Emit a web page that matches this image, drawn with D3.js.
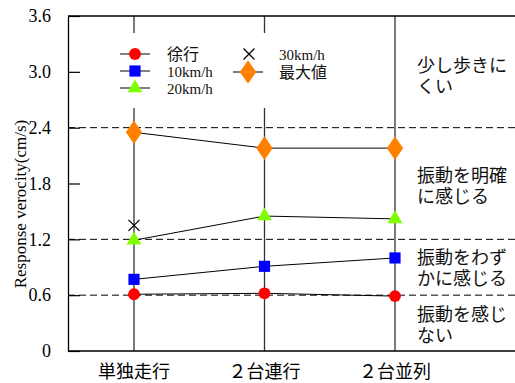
<!DOCTYPE html>
<html>
<head>
<meta charset="utf-8">
<script src="https://cdn.jsdelivr.net/npm/d3@7"></script>
<style>
  body { margin: 0; background: #fff; }
  svg { display: block; }
</style>
</head>
<body>
<div id="chart"></div>
<script>
// categories and values
const categories = ['単独走行', '２台連行', '２台並列'];
const slowValues = [0.61, 0.62, 0.59];      // 徐行
const v10Values = [0.77, 0.91, 1.00];       // 10km/h
const v20Values = [1.19, 1.45, 1.42];       // 20km/h
const v30Values = [1.35, null, null];       // 30km/h (only single run)
const maxValues = [2.35, 2.18, 2.18];       // 最大値
const yTicks = [0, 0.6, 1.2, 1.8, 2.4, 3.0, 3.6];
const thresholds = [0.6, 1.2, 2.4];
const zoneLabels = [
  ['少し歩きに', 'くい'],
  ['振動を明確', 'に感じる'],
  ['振動をわず', 'かに感じる'],
  ['振動を感じ', 'ない']
];

const SERIF = '"Liberation Serif", "Times New Roman", Times, serif';
const JP = '"Noto Sans CJK JP", "Noto Sans", sans-serif';

const width = 515;
const height = 383;
const margin = {left: 68, top: 16, bottom: 32};

const svg = d3.select('#chart').append('svg')
  .attr('width', width)
  .attr('height', height);

const y = d3.scaleLinear().domain([0, 3.6]).range([height - margin.bottom, margin.top]);
const x = d3.scalePoint().domain(categories).range([134, 395]);
const plotRight = 620; // frame runs past the right edge of the picture

// vertical category lines
svg.append('g').selectAll('line')
  .data(categories)
  .enter().append('line')
  .attr('x1', d => x(d)).attr('x2', d => x(d))
  .attr('y1', y(0)).attr('y2', y(3.6))
  .attr('stroke', '#333').attr('stroke-width', 1.3);

// threshold dashed lines
svg.append('g').selectAll('line')
  .data(thresholds)
  .enter().append('line')
  .attr('x1', margin.left).attr('x2', plotRight)
  .attr('y1', d => y(d)).attr('y2', d => y(d))
  .attr('stroke', '#000').attr('stroke-width', 1)
  .attr('stroke-dasharray', '7,4');

// frame
svg.append('line').attr('x1', margin.left).attr('x2', plotRight)
  .attr('y1', y(3.6)).attr('y2', y(3.6)).attr('stroke', '#000').attr('stroke-width', 1.3);
svg.append('line').attr('x1', margin.left).attr('x2', plotRight)
  .attr('y1', y(0)).attr('y2', y(0)).attr('stroke', '#000').attr('stroke-width', 1.3);

// left axis with inward ticks
const yAxis = d3.axisLeft(y).tickValues(yTicks).tickSizeInner(-12).tickSizeOuter(0).tickPadding(17)
  .tickFormat(d => d === 0 ? '0' : d3.format('.1f')(d));
const ya = svg.append('g').attr('transform', `translate(${margin.left},0)`).call(yAxis)
  .attr('font-family', null).attr('font-size', null);
ya.select('.domain').attr('stroke', '#000').attr('stroke-width', 1.3);
ya.selectAll('.tick line').attr('stroke', '#000').attr('stroke-width', 1.2);
ya.selectAll('.tick text')
  .style('font-family', SERIF)
  .style('font-size', '18px')
  .attr('fill', '#000');

// y axis title
svg.append('text')
  .attr('transform', 'translate(26,204) rotate(-90)')
  .attr('text-anchor', 'middle')
  .style('font-family', SERIF)
  .style('font-size', '17px')
  .text('Response verocity(cm/s)');

// x labels
svg.append('g').selectAll('text')
  .data(categories)
  .enter().append('text')
  .attr('x', d => x(d)).attr('y', 378)
  .attr('text-anchor', 'middle')
  .style('font-family', JP)
  .style('font-size', '18px')
  .text(d => d);

// zone labels on the right (layout positions)
const zoneY = [3.06, 1.88, 1.0, 0.39];
const zg = svg.append('g');
zoneLabels.forEach((lines, i) => {
  lines.forEach((t, j) => {
    zg.append('text')
      .attr('x', 417)
      .attr('y', y(zoneY[i]) + j * 21 + 6)
      .style('font-family', JP)
      .style('font-size', '18px')
      .attr('fill', '#111')
      .text(t);
  });
});

// series
const series = [
  {name: '徐行', values: slowValues, shape: 'circle', color: '#ff0000', size: 110},
  {name: '10km/h', values: v10Values, shape: 'square', color: '#0000ff', size: 125},
  {name: '20km/h', values: v20Values, shape: 'triangle', color: '#80ff00', size: 95},
  {name: '30km/h', values: v30Values, shape: 'cross', color: '#000', size: 0},
  {name: '最大値', values: maxValues, shape: 'diamond', color: '#ff8000', size: 160}
];

const symbolType = {
  circle: d3.symbolCircle,
  square: d3.symbolSquare,
  triangle: d3.symbolTriangle,
  diamond: d3.symbolDiamond
};

const line = d3.line()
  .defined(d => d.v != null)
  .x(d => x(d.c))
  .y(d => y(d.v));

function drawMarker(g, s, cx, cy) {
  if (s.shape === 'cross') {
    const r = 5.5;
    g.append('path')
      .attr('d', `M${cx - r},${cy - r}L${cx + r},${cy + r}M${cx - r},${cy + r}L${cx + r},${cy - r}`)
      .attr('stroke', '#000').attr('stroke-width', 1.3).attr('fill', 'none');
  } else {
    g.append('path')
      .attr('d', d3.symbol().type(symbolType[s.shape]).size(s.size)())
      .attr('transform', `translate(${cx},${cy})` + (s.shape === 'diamond' ? ' scale(1.2,1)' : ''))
      .attr('fill', s.color);
  }
}

series.forEach(s => {
  const pts = categories.map((c, i) => ({c: c, v: s.values[i]}));
  const g = svg.append('g');
  if (s.shape !== 'cross') {
    g.append('path').datum(pts)
      .attr('d', line)
      .attr('fill', 'none')
      .attr('stroke', '#000')
      .attr('stroke-width', 1);
  }
  pts.filter(p => p.v != null).forEach(p => drawMarker(g, s, x(p.c), y(p.v)));
});

// legend
const lg = svg.append('g');
lg.append('rect').attr('x', 108).attr('y', 33).attr('width', 232).attr('height', 75).attr('fill', '#fff');
const legendPos = [
  {x: 135, y: 54}, {x: 135, y: 71}, {x: 135, y: 88},
  {x: 249, y: 54}, {x: 248, y: 72}
];
series.forEach((s, i) => {
  const p = legendPos[i];
  if (s.shape !== 'cross') {
    lg.append('line').attr('x1', p.x - 15).attr('x2', p.x + 15)
      .attr('y1', p.y).attr('y2', p.y)
      .attr('stroke', '#000').attr('stroke-width', 1);
  }
  drawMarker(lg, s, p.x, p.y);
  const isJp = /[^\x00-\x7f]/.test(s.name);
  lg.append('text')
    .attr('x', i < 3 ? 167 : 279)
    .attr('y', p.y + 5.5)
    .style('font-family', isJp ? JP : SERIF)
    .style('font-size', isJp ? '16px' : '15px')
    .attr('fill', '#111')
    .text(s.name);
});
</script>
</body>
</html>
